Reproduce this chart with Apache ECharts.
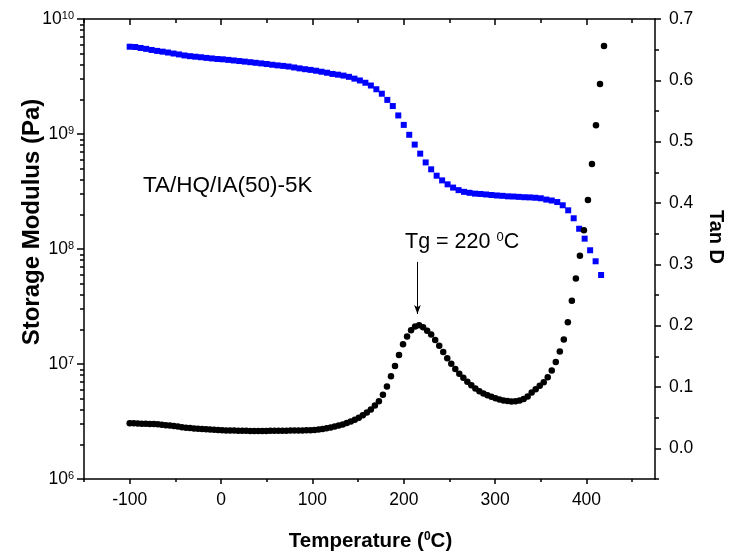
<!DOCTYPE html>
<html><head><meta charset="utf-8">
<script src="https://cdn.jsdelivr.net/npm/echarts@6.0.0/dist/echarts.min.js"></script>
<style>html,body{margin:0;padding:0;background:#fff}#c{width:734px;height:554px}</style>
</head><body><div id="c"></div>
<script>
// Storage modulus (Pa) vs temperature (°C) — blue squares
const modulusTemp = [-100,-94,-88,-82,-76,-70,-64,-58,-52,-46,-40,-34,-28,-22,-16,-10,-4,2,8,14,20,26,32,38,44,50,56,62,68,74,80,86,92,98,104,110,116,122,128,134,140,146,152,158,164,170,176,182,188,194,200,206,212,218,224,230,236,242,248,254,260,266,272,278,284,290,296,302,308,314,320,326,332,338,344,350,356,362,368,374,380,386,392,398,404,410,416];
const modulusPa = [5.74e9,5.71e9,5.60e9,5.50e9,5.38e9,5.28e9,5.20e9,5.11e9,5.01e9,4.92e9,4.82e9,4.75e9,4.70e9,4.65e9,4.59e9,4.54e9,4.49e9,4.46e9,4.41e9,4.36e9,4.31e9,4.26e9,4.21e9,4.16e9,4.11e9,4.06e9,4.00e9,3.95e9,3.91e9,3.86e9,3.79e9,3.72e9,3.66e9,3.61e9,3.55e9,3.48e9,3.41e9,3.33e9,3.28e9,3.22e9,3.14e9,3.03e9,2.92e9,2.79e9,2.64e9,2.45e9,2.24e9,1.98e9,1.75e9,1.45e9,1.20e9,9.84e8,8.09e8,6.75e8,5.66e8,4.93e8,4.34e8,3.95e8,3.65e8,3.42e8,3.25e8,3.14e8,3.08e8,3.03e8,3.01e8,2.98e8,2.95e8,2.92e8,2.90e8,2.87e8,2.86e8,2.84e8,2.82e8,2.81e8,2.79e8,2.76e8,2.69e8,2.64e8,2.56e8,2.40e8,2.17e8,1.85e8,1.50e8,1.23e8,9.75e7,7.82e7,5.94e7];

// Tan D vs temperature (°C) — black circles
const tanTemp = [-100,-95.6,-91.2,-86.8,-82.4,-78,-73.6,-69.2,-64.8,-60.4,-56,-51.6,-47.2,-42.8,-38.4,-34,-29.6,-25.2,-20.8,-16.4,-12,-7.6,-3.2,1.2,5.6,10,14.4,18.8,23.2,27.6,32,36.4,40.8,45.2,49.6,54,58.4,62.8,67.2,71.6,76,80.4,84.8,89.2,93.6,98,102.4,106.8,111.2,115.6,120,124.4,128.8,133.2,137.6,142,146.4,150.8,155.2,159.6,164,168.4,172.8,177.2,181.6,186,190.4,194.8,199.2,203.6,208,212.4,216.8,221.2,225.6,230,234.4,238.8,243.2,247.6,252,256.4,260.8,265.2,269.6,274,278.4,282.8,287.2,291.6,296,300.4,304.8,309.2,313.6,318,322.4,326.8,331.2,335.6,340,344.4,348.8,353.2,357.6,362,366.4,370.8,375.2,379.6,384,388.4,392.8,397.2,401.6,406,410.4,414.8,419.2];
const tanD = [0.0410,0.0407,0.0404,0.0401,0.0399,0.0398,0.0396,0.0394,0.0386,0.0378,0.0373,0.0364,0.0354,0.0345,0.0335,0.0330,0.0325,0.0321,0.0316,0.0311,0.0307,0.0302,0.0297,0.0293,0.0291,0.0290,0.0289,0.0287,0.0286,0.0285,0.0284,0.0283,0.0283,0.0283,0.0284,0.0285,0.0285,0.0286,0.0287,0.0288,0.0289,0.0290,0.0291,0.0292,0.0293,0.0294,0.0298,0.0306,0.0316,0.0327,0.0339,0.0355,0.0371,0.0387,0.0413,0.0438,0.0464,0.0500,0.0539,0.0584,0.0632,0.0700,0.0769,0.0875,0.1008,0.1177,0.1344,0.1522,0.1695,0.1824,0.1925,0.1988,0.2008,0.1973,0.1918,0.1856,0.1765,0.1674,0.1569,0.1467,0.1379,0.1292,0.1217,0.1152,0.1086,0.1029,0.0976,0.0932,0.0893,0.0864,0.0842,0.0818,0.0797,0.0781,0.0770,0.0765,0.0768,0.0780,0.0803,0.0845,0.0910,0.0965,0.1020,0.1078,0.1160,0.1270,0.1408,0.1578,0.1776,0.2055,0.2408,0.2767,0.3140,0.3557,0.4047,0.4636,0.5268,0.5942,0.6560];

// Axis ticks / labels
const xMajorTicks = [-100,0,100,200,300,400];
const xMinorTicks = [-150,-50,50,150,250,350,450];
const tanMajorTicks = [0,0.1,0.2,0.3,0.4,0.5,0.6,0.7];
const tanMinorTicks = [-0.05,0.05,0.15,0.25,0.35,0.45,0.55,0.65];
const logDecades = [6,7,8,9];
const logMantissas = [2,3,4,5,6,7,8,9];

// Annotation
const tgLabel = 'Tg = 220 ';
const tgArrow = [[215,0.304],[215,0.219]];
const sampleName = 'TA/HQ/IA(50)-5K';

const FF = 'Liberation Sans, Arial, sans-serif';
const logMinorPos = [];
logDecades.forEach(d => logMantissas.forEach(m => logMinorPos.push(d + Math.log10(m))));

const lineS = {color:'#000', width:1.5};
const axLine = {onZero:false, lineStyle:lineS};
const noLine = {show:false, onZero:false};
const noSplit = {show:false};

const chart = echarts.init(document.getElementById('c'), null, {renderer:'canvas'});
chart.setOption({
  animation:false,
  backgroundColor:'#fff',
  grid:{left:84, right:79, top:19, bottom:75, containLabel:false},
  xAxis:[
    {type:'value', position:'bottom', min:-150, max:475,
     axisLine:axLine, axisTick:{customValues:xMajorTicks, length:5, lineStyle:lineS},
     axisLabel:{customValues:xMajorTicks, margin:12, color:'#000', fontSize:17.5, fontFamily:FF},
     splitLine:noSplit},
    {type:'value', position:'bottom', min:-150, max:475,
     axisLine:noLine, axisTick:{customValues:xMinorTicks, length:3, lineStyle:lineS},
     axisLabel:{show:false}, splitLine:noSplit},
    {type:'value', position:'top', min:-150, max:475,
     axisLine:axLine, axisTick:{inside:true, customValues:xMajorTicks, length:6, lineStyle:lineS},
     axisLabel:{show:false}, splitLine:noSplit},
    {type:'value', position:'top', min:-150, max:475,
     axisLine:noLine, axisTick:{inside:true, customValues:xMinorTicks, length:4, lineStyle:lineS},
     axisLabel:{show:false}, splitLine:noSplit}
  ],
  yAxis:[
    {type:'log', logBase:10, min:1e6, max:1e10, position:'left',
     axisLine:axLine, axisTick:{length:7, lineStyle:lineS},
     axisLabel:{margin:10, color:'#000', fontFamily:FF,
       formatter:v => '{b|10}{s|' + Math.round(Math.log10(v)) + '}',
       rich:{b:{fontSize:17.5, fontFamily:FF, color:'#000', lineHeight:18},
             s:{fontSize:11, fontFamily:FF, color:'#000', verticalAlign:'top', lineHeight:11}}},
     splitLine:noSplit},
    {type:'value', min:6, max:10, position:'left',
     axisLine:noLine, axisTick:{customValues:logMinorPos, length:4, lineStyle:lineS},
     axisLabel:{show:false}, splitLine:noSplit},
    {type:'value', min:-0.05, max:0.7, position:'right',
     axisLine:axLine, axisTick:{customValues:tanMajorTicks, length:6, lineStyle:lineS},
     axisLabel:{customValues:tanMajorTicks, margin:14, color:'#000', fontSize:17.5, fontFamily:FF,
       formatter:v => v.toFixed(1)},
     splitLine:noSplit},
    {type:'value', min:-0.05, max:0.7, position:'right',
     axisLine:noLine, axisTick:{customValues:tanMinorTicks, length:4, lineStyle:lineS},
     axisLabel:{show:false}, splitLine:noSplit}
  ],
  series:[
    {name:'Storage Modulus', type:'scatter', xAxisIndex:0, yAxisIndex:0,
     symbol:'rect', symbolSize:6, itemStyle:{color:'#0000ff', opacity:1},
     data:modulusTemp.map((t,i)=>[t, modulusPa[i]]), silent:true, z:3},
    {name:'Tan D', type:'scatter', xAxisIndex:0, yAxisIndex:2,
     symbol:'circle', symbolSize:6.5, itemStyle:{color:'#000', opacity:1},
     data:tanTemp.map((t,i)=>[t, tanD[i]]), silent:true, z:4,
     markLine:{silent:true, animation:false, symbol:['none','arrow'], symbolSize:[5,9],
       label:{show:false}, lineStyle:{color:'#000', width:1, type:'solid'},
       data:[[{coord:tgArrow[0], symbol:'none'},{coord:tgArrow[1], symbol:'arrow'}]]}}
  ],
  graphic:[
    {type:'text', x:32.5, y:222, rotation:Math.PI/2,
     style:{text:'Storage Modulus (Pa)', fontSize:24, fontWeight:'bold', fontFamily:FF, fill:'#000', align:'center', verticalAlign:'middle'}},
    {type:'text', x:370.5, y:541,
     style:{text:'Temperature ({s|0}C)', fontSize:20.5, fontWeight:'bold', fontFamily:FF, fill:'#000', align:'center', verticalAlign:'middle',
       rich:{s:{fontSize:12, fontWeight:'bold', fontFamily:FF, fill:'#000', verticalAlign:'top', lineHeight:12}}}},
    {type:'text', x:716, y:237, rotation:-Math.PI/2,
     style:{text:'Tan D', fontSize:20, fontWeight:'bold', fontFamily:FF, fill:'#000', align:'center', verticalAlign:'middle'}},
    {type:'text', x:143, y:186,
     style:{text:sampleName, fontSize:22.5, fontFamily:FF, fill:'#000', align:'left', verticalAlign:'middle'}},
    {type:'text', x:405, y:242,
     style:{text:tgLabel + '{s|0}C', fontSize:21.5, fontFamily:FF, fill:'#000', align:'left', verticalAlign:'middle',
       rich:{s:{fontSize:13, fontFamily:FF, fill:'#000', verticalAlign:'top', lineHeight:12}}}}
  ]
});
</script></body></html>
